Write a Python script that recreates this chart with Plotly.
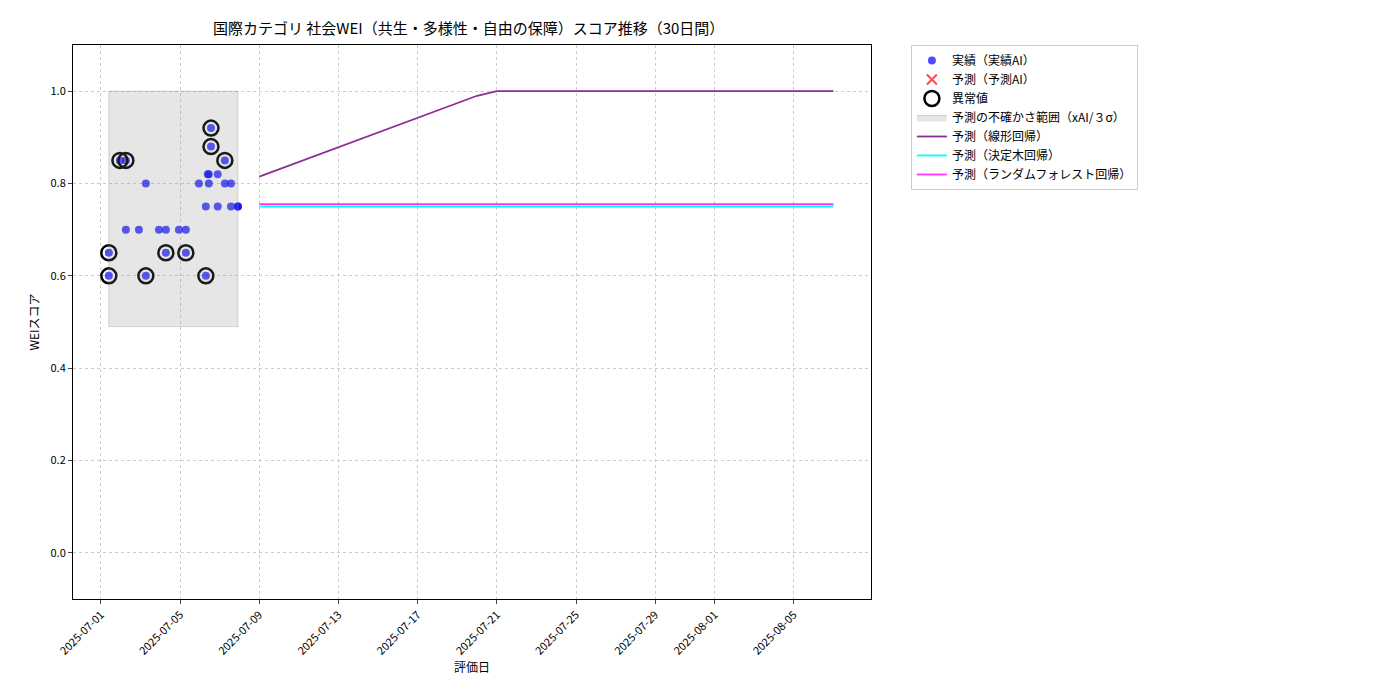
import plotly.graph_objects as go
import pandas as pd

base = pd.Timestamp("2025-07-01")
act_days = [0.4,0.4,0.96,1.26,1.26,1.92,2.27,2.27,2.93,3.28,3.28,3.94,4.29,4.29,4.95,5.3,5.3,5.4,5.45,5.45,5.56,5.56,5.9,5.9,6.26,6.26,6.57,6.57,6.92,6.92]
act_vals = [0.6,0.65,0.85,0.85,0.7,0.7,0.8,0.6,0.7,0.7,0.65,0.7,0.7,0.65,0.8,0.6,0.75,0.82,0.82,0.8,0.92,0.88,0.82,0.75,0.85,0.8,0.8,0.75,0.75,0.75]
out_days = [0.4,0.4,0.96,1.26,2.27,3.28,4.29,5.3,5.56,5.56,6.26]
out_vals = [0.6,0.65,0.85,0.85,0.6,0.65,0.65,0.6,0.92,0.88,0.85]
band_days = [0.4, 6.92]
band_lo, band_hi = 0.49, 1.0
pred_dates = ["2025-07-09","2025-07-20","2025-07-21","2025-08-07"]
lin_vals = [0.815,0.99,1.0,1.0]
tree_dates = ["2025-07-09","2025-08-07"]
tree_vals = [0.75,0.75]
rf_vals = [0.755,0.755]
tick_dates = ["2025-07-01","2025-07-05","2025-07-09","2025-07-13","2025-07-17","2025-07-21","2025-07-25","2025-07-29","2025-08-01","2025-08-05"]

d = lambda days: [base + pd.Timedelta(days=x) for x in days]
fig = go.Figure()
fig.add_trace(go.Scatter(x=d(act_days), y=act_vals, mode="markers", name="実績（実績AI）",
    marker=dict(color="rgba(0,0,255,0.7)", size=8)))
fig.add_trace(go.Scatter(x=[None], y=[None], mode="markers", name="予測（予測AI）",
    marker=dict(color="rgba(255,0,0,0.7)", symbol="x-thin", size=10, line=dict(color="rgba(255,0,0,0.7)", width=2))))
fig.add_trace(go.Scatter(x=d(out_days), y=out_vals, mode="markers", name="異常値",
    marker=dict(color="rgba(0,0,0,0)", size=15, line=dict(color="black", width=2.5))))
bx = d(band_days)
fig.add_trace(go.Scatter(x=[bx[0],bx[1],bx[1],bx[0],bx[0]], y=[band_lo,band_lo,band_hi,band_hi,band_lo],
    fill="toself", fillcolor="rgba(128,128,128,0.2)", line=dict(color="rgba(128,128,128,0.3)", width=1),
    mode="lines", name="予測の不確かさ範囲（xAI/３σ）"))
fig.add_trace(go.Scatter(x=pred_dates, y=lin_vals, mode="lines", name="予測（線形回帰）", line=dict(color="#8e2c96", width=1.8)))
fig.add_trace(go.Scatter(x=tree_dates, y=tree_vals, mode="lines", name="予測（決定木回帰）", line=dict(color="#00ffff", width=1.8)))
fig.add_trace(go.Scatter(x=tree_dates, y=rf_vals, mode="lines", name="予測（ランダムフォレスト回帰）", line=dict(color="#ff33ff", width=1.8)))

grid = dict(showgrid=True, gridcolor="#cccccc", griddash="dot", gridwidth=1, showline=True, linecolor="black", mirror=True,
            ticks="outside", ticklen=4, automargin=False, tickfont=dict(size=11))
fig.update_layout(
    width=1400, height=700, plot_bgcolor="white", paper_bgcolor="white",
    font=dict(family="Noto Sans CJK JP", size=12, color="black"),
    title=dict(text="国際カテゴリ 社会WEI（共生・多様性・自由の保障）スコア推移（30日間）", x=0.329, xanchor="center", y=0.971, yanchor="middle", font=dict(size=15)),
    margin=dict(l=65, r=537, t=37, b=109),
    showlegend=True,
    legend=dict(x=1.05, y=1.0, xanchor="left", yanchor="top", bordercolor="#cccccc", borderwidth=1, font=dict(size=12), tracegroupgap=0),
    xaxis=dict(range=[base - pd.Timedelta(days=1.41), base + pd.Timedelta(days=38.9)],
        tickvals=tick_dates, ticktext=tick_dates, tickangle=-45, title=dict(text="評価日", standoff=2, font=dict(size=12)), **grid),
    yaxis=dict(range=[-0.1,1.1], tickvals=[0,0.2,0.4,0.6,0.8,1.0], tickformat=".1f", title=dict(text="WEIスコア", font=dict(size=12), standoff=8), zeroline=False, **grid),
)
fig.write_html("out.html")
